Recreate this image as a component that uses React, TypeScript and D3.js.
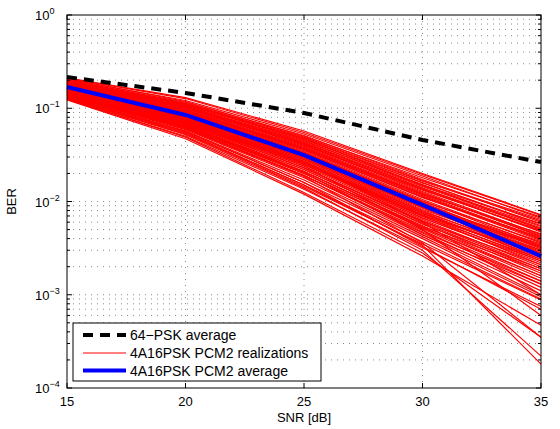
import React from 'react';
import * as d3 from 'd3';

// SNR points (dB)
const snr = [15, 20, 25, 30, 35];

// 64-PSK average BER
const psk64Avg = [0.216, 0.146, 0.089, 0.0457, 0.0265];

// 4A16PSK PCM2 average BER
const pcm2Avg = [0.169, 0.0847, 0.0315, 0.00918, 0.0026];

// 4A16PSK PCM2 realizations (BER at each SNR point)
const realizations = [
  [0.212, 0.130, 0.057, 0.0200, 0.0072],
  [0.210, 0.127, 0.055, 0.0195, 0.0071],
  [0.205, 0.121, 0.053, 0.0188, 0.0066],
  [0.208, 0.118, 0.050, 0.0180, 0.0068],
  [0.200, 0.116, 0.051, 0.0172, 0.0060],
  [0.198, 0.112, 0.048, 0.0165, 0.0062],
  [0.195, 0.110, 0.046, 0.0160, 0.0055],
  [0.193, 0.108, 0.047, 0.0150, 0.0058],
  [0.190, 0.106, 0.044, 0.0152, 0.0050],
  [0.188, 0.104, 0.043, 0.0145, 0.0052],
  [0.186, 0.102, 0.042, 0.0140, 0.0047],
  [0.184, 0.100, 0.040, 0.0132, 0.0049],
  [0.182, 0.099, 0.041, 0.0128, 0.0044],
  [0.180, 0.097, 0.039, 0.0125, 0.0042],
  [0.179, 0.096, 0.038, 0.0120, 0.0045],
  [0.177, 0.094, 0.037, 0.0118, 0.0040],
  [0.176, 0.093, 0.036, 0.0112, 0.0038],
  [0.174, 0.091, 0.036, 0.0110, 0.0041],
  [0.173, 0.090, 0.035, 0.0105, 0.0036],
  [0.171, 0.089, 0.034, 0.0102, 0.0034],
  [0.170, 0.087, 0.033, 0.0100, 0.0037],
  [0.168, 0.086, 0.032, 0.0096, 0.0032],
  [0.167, 0.085, 0.032, 0.0093, 0.0030],
  [0.166, 0.084, 0.031, 0.0090, 0.0033],
  [0.164, 0.082, 0.030, 0.0088, 0.0029],
  [0.163, 0.081, 0.029, 0.0085, 0.0027],
  [0.161, 0.080, 0.029, 0.0082, 0.0030],
  [0.160, 0.079, 0.028, 0.0080, 0.0026],
  [0.158, 0.077, 0.027, 0.0077, 0.0024],
  [0.157, 0.076, 0.027, 0.0074, 0.0025],
  [0.155, 0.075, 0.026, 0.0072, 0.0023],
  [0.154, 0.074, 0.025, 0.0070, 0.0021],
  [0.152, 0.072, 0.025, 0.0067, 0.0022],
  [0.151, 0.071, 0.024, 0.0064, 0.0020],
  [0.149, 0.070, 0.023, 0.0062, 0.0019],
  [0.148, 0.069, 0.023, 0.0060, 0.0018],
  [0.146, 0.067, 0.022, 0.0058, 0.0017],
  [0.144, 0.066, 0.021, 0.0055, 0.0016],
  [0.142, 0.065, 0.021, 0.0053, 0.0015],
  [0.140, 0.063, 0.020, 0.0051, 0.0014],
  [0.138, 0.062, 0.019, 0.0049, 0.0013],
  [0.136, 0.060, 0.019, 0.0046, 0.0012],
  [0.134, 0.059, 0.018, 0.0044, 0.0011],
  [0.132, 0.057, 0.017, 0.0042, 0.0010],
  [0.130, 0.056, 0.016, 0.0040, 0.00095],
  [0.128, 0.054, 0.015, 0.0037, 0.00090],
  [0.126, 0.053, 0.0145, 0.0035, 0.00088],
  [0.124, 0.050, 0.0135, 0.0032, 0.00075],
  [0.123, 0.047, 0.0120, 0.0026, 0.00047],
  [0.125, 0.049, 0.0125, 0.0028, 0.00035],
  [0.127, 0.052, 0.0140, 0.0030, 0.00022],
  [0.129, 0.055, 0.0150, 0.0034, 0.00018],
  [0.172, 0.088, 0.034, 0.0098, 0.0031],
  [0.169, 0.087, 0.033, 0.0094, 0.0028],
  [0.165, 0.083, 0.031, 0.0091, 0.0035],
  [0.162, 0.080, 0.030, 0.0086, 0.0032],
  [0.159, 0.078, 0.028, 0.0078, 0.0028],
  [0.156, 0.076, 0.026, 0.0075, 0.0026],
  [0.153, 0.073, 0.026, 0.0069, 0.0024],
  [0.150, 0.071, 0.025, 0.0066, 0.0023],
  [0.147, 0.068, 0.023, 0.0061, 0.0021],
  [0.143, 0.066, 0.022, 0.0057, 0.0019],
  [0.139, 0.063, 0.020, 0.0052, 0.0016],
  [0.135, 0.061, 0.019, 0.0047, 0.0014],
  [0.178, 0.095, 0.038, 0.0122, 0.0043],
  [0.183, 0.101, 0.041, 0.0135, 0.0048],
  [0.189, 0.105, 0.045, 0.0148, 0.0054],
  [0.196, 0.111, 0.047, 0.0158, 0.0057],
  [0.202, 0.114, 0.049, 0.0168, 0.0064],
  [0.187, 0.103, 0.043, 0.0138, 0.0051],
  [0.175, 0.092, 0.037, 0.0115, 0.0039],
  [0.162, 0.081, 0.031, 0.0089, 0.0034],
  [0.154, 0.074, 0.026, 0.0071, 0.0027],
  [0.141, 0.064, 0.021, 0.0054, 0.0018],
  [0.150, 0.070, 0.024, 0.0050, 0.00060],
  [0.160, 0.078, 0.027, 0.0060, 0.00100],
  [0.137, 0.061, 0.0185, 0.0036, 0.00035],
  [0.131, 0.057, 0.0160, 0.0033, 0.00070],
  [0.145, 0.064, 0.0205, 0.0044, 0.00130],
];

const xTicks = [15, 20, 25, 30, 35];
const yExponents = [0, -1, -2, -3, -4];
const legendLabels = ['64\u2212PSK average', '4A16PSK PCM2 realizations', '4A16PSK PCM2 average'];

const W = 560;
const H = 429;
const left = 67, right = 541, top = 15, bottom = 388;
const font = '"Liberation Sans", Arial, Helvetica, sans-serif';

const App = () => {
  const x = d3.scaleLinear().domain([15, 35]).range([left, right]);
  const y = d3.scaleLog().domain([1e-4, 1]).range([bottom, top]);

  const line = d3.line<number>()
    .x((_, i) => x(snr[i]))
    .y(d => y(d));

  // minor log ticks 2..9 for each decade
  const minor: number[] = [];
  for (let e = -4; e < 0; e++) {
    for (let m = 2; m <= 9; m++) minor.push(m * Math.pow(10, e));
  }

  const dot = '1,5';

  return (
    <svg width={W} height={H} style={{ position: 'absolute', left: 0, top: 0, background: '#fff' }}
      fontFamily={font}>
      <rect x={0} y={0} width={W} height={H} fill="#fff" />
      <rect x={left} y={top} width={right - left} height={bottom - top} fill="#fff" />

      {/* grid */}
      <g stroke="#000" strokeWidth={0.7} strokeDasharray={dot} opacity={0.65}>
        {xTicks.slice(1, -1).map(t => (
          <line key={'gx' + t} x1={x(t)} x2={x(t)} y1={top} y2={bottom} />
        ))}
        {[...yExponents.slice(1, -1).map(e => Math.pow(10, e)), ...minor].map(v => (
          <line key={'gy' + v} x1={left} x2={right} y1={y(v)} y2={y(v)} />
        ))}
      </g>

      {/* realizations */}
      <g fill="none" stroke="#ff0000" strokeWidth={1.15}>
        {realizations.map((r, i) => <path key={i} d={line(r) || ''} />)}
      </g>
      <path d={line(psk64Avg) || ''} fill="none" stroke="#000" strokeWidth={4} strokeDasharray="10,7" />
      <path d={line(pcm2Avg) || ''} fill="none" stroke="#0000ff" strokeWidth={4} />

      {/* axes box and ticks */}
      <rect x={left} y={top} width={right - left} height={bottom - top} fill="none" stroke="#000" strokeWidth={1} />
      <g stroke="#000" strokeWidth={1}>
        {xTicks.map(t => (
          <g key={'tx' + t}>
            <line x1={x(t)} x2={x(t)} y1={bottom} y2={bottom - 5} />
            <line x1={x(t)} x2={x(t)} y1={top} y2={top + 5} />
          </g>
        ))}
        {yExponents.map(e => (
          <g key={'ty' + e}>
            <line x1={left} x2={left + 5} y1={y(Math.pow(10, e))} y2={y(Math.pow(10, e))} />
            <line x1={right} x2={right - 5} y1={y(Math.pow(10, e))} y2={y(Math.pow(10, e))} />
          </g>
        ))}
        {minor.map(v => (
          <g key={'tm' + v}>
            <line x1={left} x2={left + 3} y1={y(v)} y2={y(v)} />
            <line x1={right} x2={right - 3} y1={y(v)} y2={y(v)} />
          </g>
        ))}
      </g>

      {/* tick labels */}
      <g fontSize={13} fill="#000">
        {xTicks.map(t => (
          <text key={'lx' + t} x={x(t)} y={bottom + 18} textAnchor="middle">{t}</text>
        ))}
        {yExponents.map(e => (
          <text key={'ly' + e} x={35} y={y(Math.pow(10, e)) + 5}>
            10<tspan fontSize={9} dy={-6}>{e === 0 ? '0' : '\u2212' + Math.abs(e)}</tspan>
          </text>
        ))}
      </g>

      {/* axis labels */}
      <text x={(left + right) / 2} y={422} fontSize={13} textAnchor="middle">SNR [dB]</text>
      <text transform={`translate(16,${(top + bottom) / 2}) rotate(-90)`} fontSize={13} textAnchor="middle">BER</text>

      {/* legend */}
      <g>
        <rect x={73} y={323} width={248} height={58} fill="#fff" stroke="#000" strokeWidth={1} />
        <line x1={83} x2={126} y1={335} y2={335} stroke="#000" strokeWidth={4} strokeDasharray="10,7" />
        <line x1={83} x2={126} y1={353} y2={353} stroke="#ff0000" strokeWidth={1} />
        <line x1={83} x2={126} y1={370.5} y2={370.5} stroke="#0000ff" strokeWidth={4} />
        {legendLabels.map((l, i) => (
          <text key={l} x={130} y={[340, 358, 375.5][i]} fontSize={14}>{l}</text>
        ))}
      </g>
    </svg>
  );
};

export default App;
